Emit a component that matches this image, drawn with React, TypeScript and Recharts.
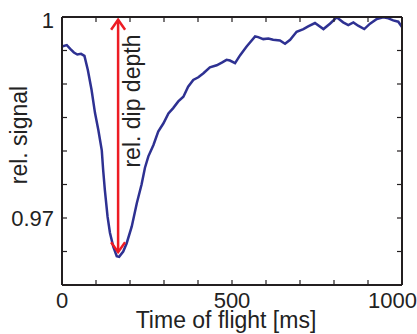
import React from "react";
import { LineChart, Line, XAxis, YAxis, ReferenceLine, Label } from "recharts";

// time of flight [ms] and relative signal
const TIME_MS = [
  0, 14, 25, 35, 45, 56, 66, 76, 87, 97, 107, 117, 121, 126, 134, 141, 151,
  161, 168, 180, 190, 205, 220, 234, 244, 254, 269, 283, 298, 313, 327, 342,
  357, 371, 386, 401, 416, 435, 455, 470, 484, 494, 509, 524, 543, 568, 577,
  592, 607, 621, 641, 656, 671, 690, 710, 724, 744, 769, 788, 808, 827, 842,
  857, 871, 889, 906, 926, 945, 960, 974, 989, 1000,
];
const REL_SIGNAL = [
  0.9956, 0.9958, 0.9952, 0.9947, 0.9944, 0.9945, 0.9942, 0.9921, 0.9891,
  0.9857, 0.9831, 0.9801, 0.9772, 0.9742, 0.9702, 0.9678, 0.9657, 0.9643,
  0.9642, 0.965, 0.9662, 0.9687, 0.9722, 0.975, 0.9775, 0.9792, 0.9809,
  0.9829, 0.9841, 0.9856, 0.9864, 0.9874, 0.9881, 0.9896, 0.9906, 0.991,
  0.9916, 0.9925, 0.9928, 0.9932, 0.9936, 0.9935, 0.9931, 0.9943, 0.9956,
  0.9971, 0.997, 0.9967, 0.9968, 0.9966, 0.9965, 0.996, 0.9966, 0.9978,
  0.9982, 0.9986, 0.9991, 0.9982, 0.999, 0.99995, 0.9992, 0.9988, 0.9992,
  0.9987, 0.9982, 0.999, 0.9997, 0.99995, 0.9998, 0.9995, 0.9993, 0.9985,
];

const X_TICKS = [0, 100, 200, 300, 400, 500, 600, 700, 800, 900, 1000];
const X_LABELS = [0, 500, 1000];
const Y_TICKS = [0.96, 0.965, 0.97, 0.975, 0.98, 0.985, 0.99, 0.995, 1];
const Y_LABELS = [0.97, 1];

// dip depth arrow
const DIP_TIME = 165;
const DIP_TOP = 0.9996;
const DIP_BOTTOM = 0.9649;

const data = TIME_MS.map((t, i) => ({ t, signal: REL_SIGNAL[i] }));

const FONT = '"Liberation Sans", Arial, Helvetica, sans-serif';
const AXIS = "#231f20";
const BLUE = "#2e3192";
const RED = "#ed1c24";
const TICK_LEN = 5;

const hasLabel = (labels: number[], v: number) =>
  labels.some((l) => Math.abs(l - v) < 1e-9);

const BottomTick = ({ x, y, payload }: any) => {
  const last = payload.value === 1000;
  return (
    <g>
      <line x1={x} y1={y} x2={x} y2={y - TICK_LEN} stroke={AXIS} strokeWidth={1.2} />
      {hasLabel(X_LABELS, payload.value) && (
        <text
          x={last ? x + 15 : x}
          y={y + 23}
          textAnchor={last ? "end" : "middle"}
          fontSize={22}
          fontFamily={FONT}
          fill="#222"
        >
          {payload.value}
        </text>
      )}
    </g>
  );
};

const TopTick = ({ x, y }: any) => (
  <line x1={x} y1={y} x2={x} y2={y + TICK_LEN} stroke={AXIS} strokeWidth={1.2} />
);

const LeftTick = ({ x, y, payload }: any) => (
  <g>
    <line x1={x} y1={y} x2={x + TICK_LEN} y2={y} stroke={AXIS} strokeWidth={1.2} />
    {hasLabel(Y_LABELS, payload.value) && (
      <text
        x={x - 8}
        y={y + (payload.value === 1 ? 11 : 7.5)}
        textAnchor="end"
        fontSize={22}
        fontFamily={FONT}
        fill="#222"
      >
        {String(payload.value)}
      </text>
    )}
  </g>
);

const RightTick = ({ x, y }: any) => (
  <line x1={x} y1={y} x2={x - TICK_LEN} y2={y} stroke={AXIS} strokeWidth={1.2} />
);

const ArrowShape = (p: any) => {
  const { x1, y1, y2 } = p;
  const top = Math.min(y1, y2);
  const bot = Math.max(y1, y2);
  const tx = x1 + 22;
  const ty = top + (bot - top) * 0.35;
  return (
    <g>
      <line x1={x1} y1={top} x2={x1} y2={bot} stroke={RED} strokeWidth={2.5} />
      <polyline
        points={`${x1 - 7},${top + 10} ${x1},${top} ${x1 + 7},${top + 10}`}
        fill="none"
        stroke={RED}
        strokeWidth={2.5}
      />
      <polyline
        points={`${x1 - 7},${bot - 10} ${x1},${bot} ${x1 + 7},${bot - 10}`}
        fill="none"
        stroke={RED}
        strokeWidth={2.5}
      />
      <text
        x={tx}
        y={ty}
        transform={`rotate(-90 ${tx} ${ty})`}
        textAnchor="middle"
        fontSize={23}
        fontFamily={FONT}
        fill="#222"
      >
        rel. dip depth
      </text>
    </g>
  );
};

const App = () => {
  return (
    <div style={{ position: "absolute", left: 0, top: 0, background: "#fff" }}>
      <LineChart
        width={417}
        height={334}
        data={data}
        margin={{ top: 16, right: 14, left: 0, bottom: 0 }}
      >
        <XAxis
          dataKey="t"
          type="number"
          domain={[0, 1000]}
          ticks={X_TICKS}
          interval={0}
          tick={BottomTick}
          tickLine={false}
          tickSize={0}
          tickMargin={0}
          height={49}
          axisLine={{ stroke: AXIS, strokeWidth: 2 }}
        >
          <Label
            content={({ viewBox }: any) => (
              <text
                x={viewBox.x + viewBox.width / 2 - 6}
                y={viewBox.y + 43}
                textAnchor="middle"
                fontSize={23}
                fontFamily={FONT}
                fill="#222"
              >
                Time of flight [ms]
              </text>
            )}
          />
        </XAxis>
        <XAxis
          xAxisId="top"
          orientation="top"
          dataKey="t"
          type="number"
          domain={[0, 1000]}
          allowDataOverflow
          ticks={X_TICKS}
          interval={0}
          tick={TopTick}
          tickLine={false}
          tickSize={0}
          tickMargin={0}
          height={1}
          axisLine={{ stroke: AXIS, strokeWidth: 2 }}
        />
        <YAxis
          type="number"
          domain={[0.96, 1]}
          allowDataOverflow
          ticks={Y_TICKS}
          interval={0}
          tick={LeftTick}
          tickLine={false}
          tickSize={0}
          tickMargin={0}
          width={62}
          axisLine={{ stroke: AXIS, strokeWidth: 2 }}
        >
          <Label
            content={({ viewBox }: any) => {
              const tx = viewBox.x + 27;
              const ty = viewBox.y + viewBox.height / 2 - 16;
              return (
                <text
                  x={tx}
                  y={ty}
                  transform={`rotate(-90 ${tx} ${ty})`}
                  textAnchor="middle"
                  fontSize={23}
                  fontFamily={FONT}
                  fill="#222"
                >
                  rel. signal
                </text>
              );
            }}
          />
        </YAxis>
        <YAxis
          yAxisId="right"
          orientation="right"
          type="number"
          domain={[0.96, 1]}
          allowDataOverflow
          ticks={Y_TICKS}
          interval={0}
          tick={RightTick}
          tickLine={false}
          tickSize={0}
          tickMargin={0}
          width={1}
          axisLine={{ stroke: AXIS, strokeWidth: 2 }}
        />
        <Line
          type="linear"
          dataKey="signal"
          stroke={BLUE}
          strokeWidth={2.5}
          dot={false}
          isAnimationActive={false}
        />
        <ReferenceLine
          segment={[
            { x: DIP_TIME, y: DIP_TOP },
            { x: DIP_TIME, y: DIP_BOTTOM },
          ]}
          shape={ArrowShape}
        />
      </LineChart>
    </div>
  );
};

export default App;
